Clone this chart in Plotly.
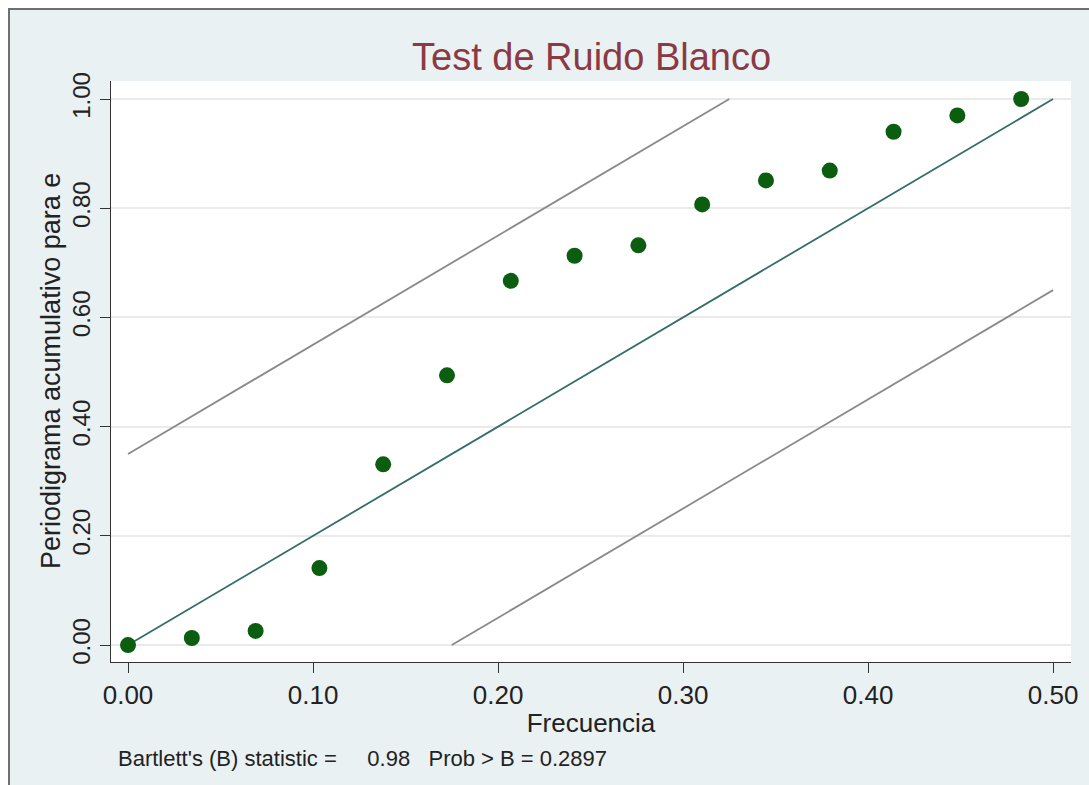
import plotly.graph_objects as go

# Data
freq = [0/29, 1/29, 2/29, 3/29, 4/29, 5/29, 6/29, 7/29, 8/29, 9/29, 10/29, 11/29, 12/29, 13/29, 14/29]
cum_pgram = [0.000, 0.013, 0.026, 0.141, 0.331, 0.494, 0.667, 0.713, 0.732, 0.807, 0.851, 0.869, 0.940, 0.970, 1.000]

# reference line (white noise) and confidence bands
ref_x = [0.0, 0.5]
ref_y = [0.0, 1.0]
upper_x = [0.0, 0.325]
upper_y = [0.35, 1.0]
lower_x = [0.175, 0.5]
lower_y = [0.0, 0.65]

x_ticks = [0.0, 0.1, 0.2, 0.3, 0.4, 0.5]
x_ticklabels = ["0.00", "0.10", "0.20", "0.30", "0.40", "0.50"]
y_ticks = [0.0, 0.2, 0.4, 0.6, 0.8, 1.0]
y_ticklabels = ["0.00", "0.20", "0.40", "0.60", "0.80", "1.00"]

title_text = "Test de Ruido Blanco"
x_title = "Frecuencia"
y_title = "Periodigrama acumulativo para e"
note_text = "Bartlett's (B) statistic =\u00a0\u00a0\u00a0\u00a0 0.98 \u00a0\u00a0Prob > B = 0.2897"

FONT = "Arial, Liberation Sans, sans-serif"
W, H = 1089, 785
ML, MR, MT, MB = 111, 18, 81, 123
pw = W - ML - MR
ph = H - MT - MB

def px_to_paper_x(px):
    return (px - ML) / pw

def px_to_paper_y(py):
    return (H - MB - py) / ph

fig = go.Figure()

fig.add_trace(go.Scatter(x=upper_x, y=upper_y, mode="lines",
                         line=dict(color="#8a8a8a", width=1.8), showlegend=False, hoverinfo="skip"))
fig.add_trace(go.Scatter(x=lower_x, y=lower_y, mode="lines",
                         line=dict(color="#8a8a8a", width=1.8), showlegend=False, hoverinfo="skip"))
fig.add_trace(go.Scatter(x=ref_x, y=ref_y, mode="lines",
                         line=dict(color="#356e66", width=1.8), showlegend=False, hoverinfo="skip"))
fig.add_trace(go.Scatter(x=freq, y=cum_pgram, mode="markers",
                         marker=dict(color="#0b5e0f", size=16, line=dict(width=0)),
                         showlegend=False))

# Outer graph region (light blue) with frame, then white plot region
fig.add_shape(type="rect", xref="paper", yref="paper",
              x0=px_to_paper_x(9), x1=px_to_paper_x(1100),
              y0=px_to_paper_y(800), y1=px_to_paper_y(9),
              fillcolor="#eaf1f3", line=dict(color="#6f6f6f", width=2), layer="below")
fig.add_shape(type="rect", xref="paper", yref="paper",
              x0=0, x1=1, y0=0, y1=1,
              fillcolor="white", line=dict(width=0), layer="below")

fig.add_annotation(text=title_text, xref="paper", yref="paper",
                   x=px_to_paper_x(591), y=px_to_paper_y(57), xanchor="center", yanchor="middle",
                   showarrow=False, font=dict(family=FONT, size=38, color="#8b3a45"))
fig.add_annotation(text=y_title, xref="paper", yref="paper", textangle=-90,
                   x=px_to_paper_x(51), y=px_to_paper_y(371), xanchor="center", yanchor="middle",
                   showarrow=False, font=dict(family=FONT, size=27, color="#222222"))
fig.add_annotation(text=note_text, xref="paper", yref="paper",
                   x=px_to_paper_x(116), y=px_to_paper_y(758), xanchor="left", yanchor="middle",
                   showarrow=False, font=dict(family=FONT, size=22, color="#222222"))

fig.update_layout(
    width=W, height=H,
    margin=dict(l=ML, r=MR, t=MT, b=MB),
    paper_bgcolor="white",
    plot_bgcolor="white",
    font=dict(family=FONT, color="#222222"),
    xaxis=dict(
        range=[-0.0092, 0.5097],
        tickvals=x_ticks, ticktext=x_ticklabels,
        ticks="outside", ticklen=10, tickwidth=1.2, tickcolor="#333333",
        showline=True, linecolor="#333333", linewidth=1.2,
        showgrid=False, zeroline=False,
        tickfont=dict(family=FONT, size=26, color="#222222"),
        title=dict(text=x_title, font=dict(family=FONT, size=26, color="#222222"), standoff=4),
    ),
    yaxis=dict(
        range=[-0.031, 1.033],
        tickvals=y_ticks, ticktext=y_ticklabels,
        tickangle=-90,
        ticks="outside", ticklen=10, tickwidth=1.2, tickcolor="#333333",
        showline=True, linecolor="#333333", linewidth=1.2,
        showgrid=True, gridcolor="#eaeaea", gridwidth=1.5, zeroline=False,
        tickfont=dict(family=FONT, size=24, color="#222222"),
    ),
)

fig.write_html("out.html")
